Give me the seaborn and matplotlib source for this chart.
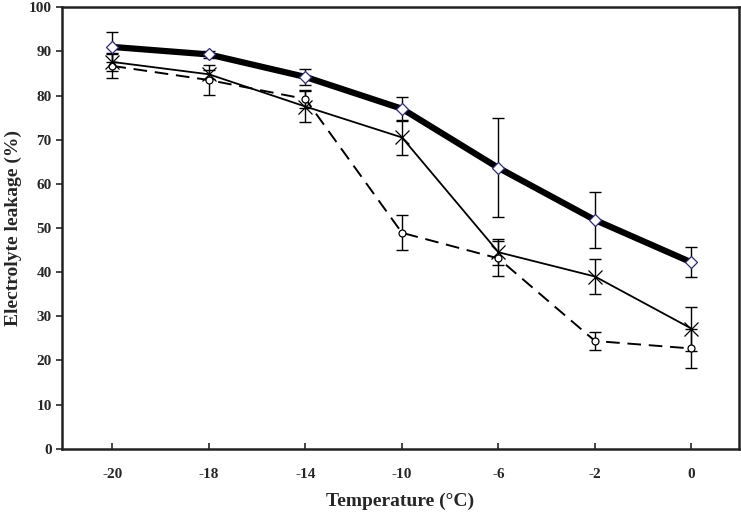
import numpy as np
import pandas as pd
import matplotlib
matplotlib.use("Agg")
import matplotlib.pyplot as plt
import seaborn as sns

temps = ["-20", "-18", "-14", "-10", "-6", "-2", "0"]

thick_mean = [91.0, 89.3, 84.2, 77.0, 63.6, 51.8, 42.2]
thick_err = [3.4, 0.8, 1.8, 2.7, 11.2, 6.3, 3.4]

cross_mean = [87.6, 84.8, 77.5, 70.5, 44.5, 39.0, 27.2]
cross_err = [2.0, 1.0, 3.5, 4.0, 3.0, 3.9, 5.0]

circle_mean = [86.7, 83.5, 79.2, 48.9, 43.1, 24.4, 22.7]
circle_err = [2.8, 3.4, 2.0, 4.0, 4.0, 2.0, 4.5]

sns.set_style("ticks")
plt.rcParams["font.family"] = ["Liberation Serif", "DejaVu Serif"]
plt.rcParams["font.weight"] = "bold"

fig = plt.figure(figsize=(7.41, 5.14), dpi=100)
ax = fig.add_axes([0.084, 0.127, 0.913, 0.859])

pos = np.arange(len(temps))

series = [
    (circle_mean, circle_err, dict(color="black", lw=1.4, ls=(0, (7, 4)), marker="o",
                                   ms=5, mfc="white", mec="black", mew=0.9)),
    (cross_mean, cross_err, dict(color="black", lw=1.3, ls="-", marker="x",
                                 ms=10, mec="black", mew=0.9)),
    (thick_mean, thick_err, dict(color="black", lw=4.5, ls="-", marker="D",
                                 ms=6, mfc="white", mec="#2a2a80", mew=0.9)),
]

for mean, err, st in series:
    ax.errorbar(pos, mean, yerr=err, fmt="none", ecolor="black",
                elinewidth=1.0, capsize=4, capthick=1.0, zorder=2)
    df = pd.DataFrame({"pos": pos, "val": mean})
    sns.lineplot(data=df, x="pos", y="val", ax=ax, sort=False, zorder=3, **st)

ax.set_xlim(-0.52, 6.49)
ax.set_ylim(0, 100)
ax.set_xticks(pos)
ax.set_xticklabels(temps)
ax.set_yticks(range(0, 101, 10))
ax.tick_params(axis="x", direction="in", length=4, width=1.2, pad=14, labelsize=11)
ax.tick_params(axis="y", direction="out", length=4, width=1.2, labelsize=11)
for s in ax.spines.values():
    s.set_linewidth(1.8)
    s.set_color("#222222")

ax.set_xlabel("Temperature (°C)", fontsize=14, fontweight="bold", labelpad=8)
ax.set_ylabel("Electrolyte leakage (%)", fontsize=14, fontweight="bold", labelpad=5)

fig.savefig("out.png", dpi=100)
